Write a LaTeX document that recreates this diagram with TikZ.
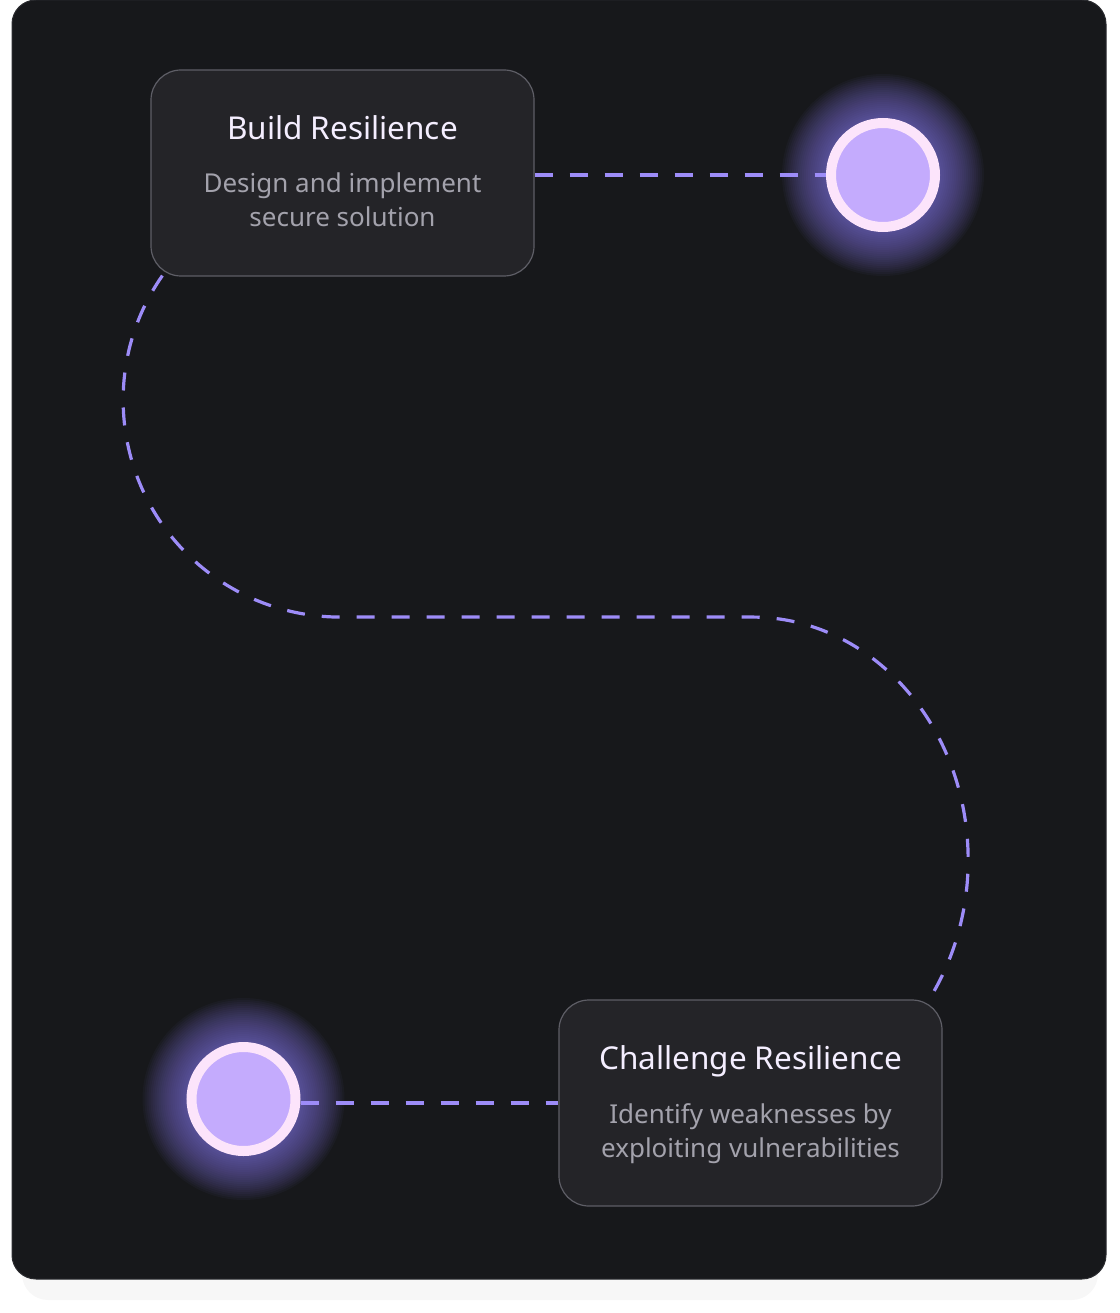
\documentclass[tikz,border=0pt]{standalone}
\usepackage{fontspec}
\setmainfont{Noto Sans}
\usetikzlibrary{calc}
\pgfdeclarelayer{back}
\pgfdeclarelayer{links}
\pgfsetlayers{back,links,main}

\begin{document}
\begin{tikzpicture}[x=1pt,y=-1pt,
  card/.style={draw=cardline, line width=1.2pt, fill=cardfill, rounded corners=30pt,
    minimum width=383pt, minimum height=206pt, inner sep=0pt},
  headtext/.style={text=headc, font=\fontsize{31.5}{36}\selectfont, anchor=base, inner sep=0pt},
  subtext/.style={text=subc, font=\fontsize{26}{34}\selectfont, align=center, anchor=base, inner sep=0pt},
  dotring/.style={circle, draw=ringc, line width=10pt, fill=dotc, minimum size=104pt, inner sep=0pt},
  link/.style={draw=linkc, line width=3.2pt, dash pattern=on 18pt off 17pt}]

\definecolor{panelc}{HTML}{17181B}
\definecolor{panelline}{HTML}{2A2B2F}
\definecolor{cardfill}{HTML}{242428}
\definecolor{cardline}{HTML}{5E5E66}
\definecolor{headc}{HTML}{F4EEFF}
\definecolor{subc}{HTML}{A3A2AC}
\definecolor{linkc}{HTML}{9D8CF8}
\definecolor{ringc}{HTML}{FCE4FB}
\definecolor{dotc}{HTML}{C4ABFD}
\definecolor{glowc}{HTML}{8E80F4}

\useasboundingbox (0,0) rectangle (1119,1313);

% Cards
\node[card] (b1) at (342.5,173) {};
\node[headtext] (b1head) at ($(b1.north)+(0,70)$) {Build Resilience};
\node[subtext] (b1sub) at ($(b1.north)+(0,157)$) {Design and implement\\secure solution};

\node[card] (b2) at (750.5,1103) {};
\node[headtext] (b2head) at ($(b2.north)+(0,70)$) {Challenge Resilience};
\node[subtext] (b2sub) at ($(b2.north)+(0,158)$) {Identify weaknesses by\\exploiting vulnerabilities};

% Glowing dots
\node[dotring] (c1) at (883,175) {};
\node[dotring] (c2) at (243.5,1099) {};

% Panel and glow
\begin{pgfonlayer}{back}
\fill[black!3, rounded corners=26pt] (22,20) rectangle (1098,1300);
\filldraw[fill=panelc, draw=panelline, line width=1pt, rounded corners=24pt] (12,0) rectangle (1106,1279);
\foreach \r in {101,99,...,59} {
  \fill[glowc, opacity=0.04] (c1) circle (\r);
  \fill[glowc, opacity=0.04] (c2) circle (\r);
}
\end{pgfonlayer}

% Connectors
\begin{pgfonlayer}{links}
\draw[link] (b1.east |- c1) -- (c1.west);
\draw[link] (c2.east |- b2) -- (b2.west);
\draw[link] ($(b1.south west)+(12,-1)$) arc[start angle=215, end angle=90, radius=217]
  -- ++(412,0) arc[start angle=-90, end angle=36, x radius=216, y radius=243];
\end{pgfonlayer}

\end{tikzpicture}
\end{document}
